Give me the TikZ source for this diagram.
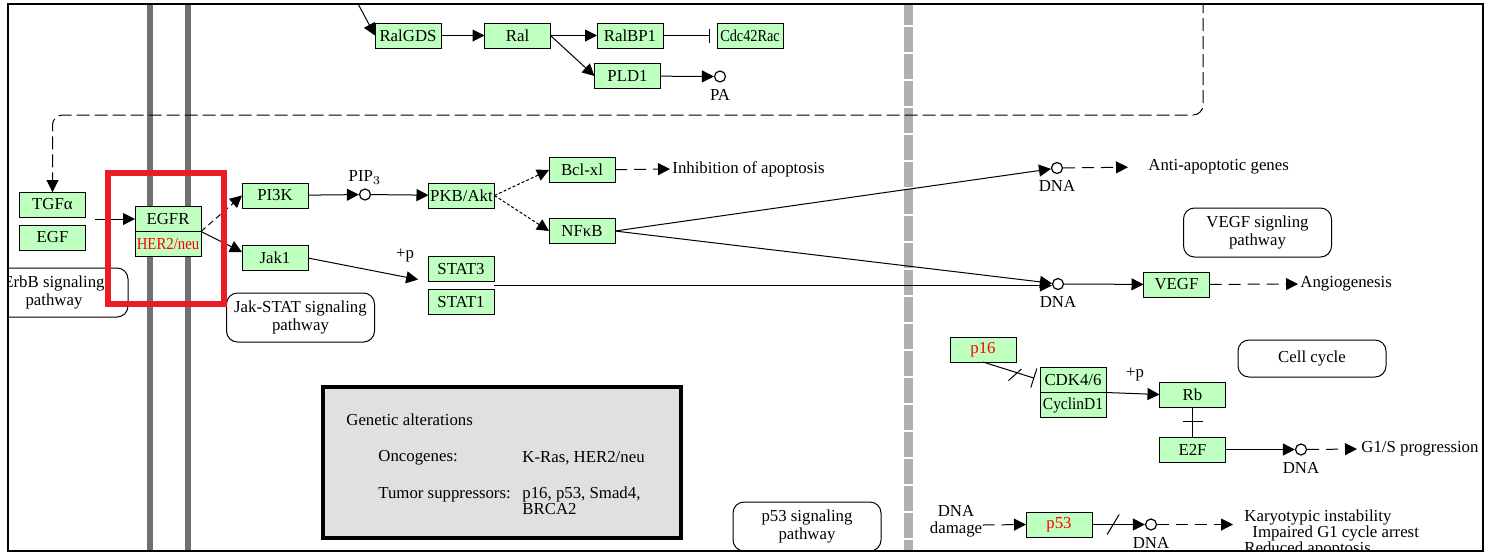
\documentclass[tikz,border=0pt]{standalone}
\usepackage{fontspec}
\setmainfont{Liberation Serif}
\usepackage{graphicx}
\usepackage{tikz}
\usetikzlibrary{arrows.meta,calc,positioning,decorations.markings}
\definecolor{kegggreen}{HTML}{BFFFBF}
\definecolor{keggred}{HTML}{FF0000}
\definecolor{framered}{HTML}{ED1C24}
\definecolor{membranegray}{HTML}{707070}
\definecolor{dividergray}{HTML}{B0B0B0}
\definecolor{notegray}{HTML}{E0E0E0}
\newcommand{\keggfont}{\fontsize{8.4}{8.6}\selectfont}
\tikzset{
gene box/.style={
  draw=black,
  fill=kegggreen,
  line width=0.5pt,
  minimum width=33pt,
  minimum height=12.5pt,
  inner sep=0pt,
  outer sep=0pt,
  font=\keggfont
},
mutant box/.style={gene box, text=keggred},
compound/.style={circle, draw=black, fill=white, line width=0.6pt, minimum size=5.5pt, inner sep=0pt},
pathway box/.style={
  draw=black,
  fill=white,
  rounded corners=5.5pt,
  line width=0.5pt,
  minimum width=74pt,
  minimum height=24.5pt,
  inner sep=0pt,
  align=center,
  font=\keggfont
},
fig label/.style={font=\keggfont, inner sep=0pt, align=left},
kegg flow/.style={-{Triangle[length=6pt,width=6pt]}, line width=0.5pt},
kegg dashed/.style={kegg flow, dash pattern=on 6pt off 3.5pt},
kegg loop/.style={kegg flow, dash pattern=on 6.5pt off 2.5pt},
kegg indirect/.style={kegg flow, dash pattern=on 3pt off 2pt},
kegg dotted/.style={kegg flow, dash pattern=on 1.5pt off 1pt},
kegg inhibit/.style={-{Bar[width=#1]}, line width=0.5pt},
kegg inhibit/.default=7pt,
cross bar/.style={postaction={decorate}, decoration={markings,
  mark=at position #1 with {\draw[-, solid, line width=0.5pt] (0pt,-5pt) -- (0pt,5pt);}}},
slash mark/.style={postaction={decorate}, decoration={markings,
  mark=at position #1 with {\draw[-, solid, line width=0.5pt] (-3pt,-5pt) -- (3pt,5pt);}}}
}
\begin{document}
\begin{tikzpicture}[x=0.5pt,y=-0.5pt]
\useasboundingbox (0,0) rectangle (1494,554);
\begin{scope}
\clip (8,4) rectangle (1483,551);
% membranes and compartment divider
\fill[membranegray] (147,0) rectangle (153,560);
\fill[membranegray] (185,0) rectangle (191,560);
\draw[dividergray, line width=4.5pt, dash pattern=on 12.5pt off 1pt] (908,0) -- (908,560);

% pathway maps
\node[pathway box] (erbb) at (54,292.5) {ErbB signaling\\pathway};
\node[pathway box] (jakstat) at (300.5,317.5) {Jak-STAT signaling\\pathway};
\node[pathway box] (vegf map) at (1257.5,232.5) {VEGF signling\\pathway};
\node[pathway box, minimum height=18.5pt] (cell cycle) at (1312,358.5) {Cell cycle};
\node[pathway box] (p53 map) at (807,526.5) {p53 signaling\\pathway};

% Ral branch
\node[gene box] (ralgds) at (408,35.5) {RalGDS};
\node[gene box] (ral) at (517.5,35.5) {Ral};
\node[gene box] (ralbp1) at (630,35.5) {RalBP1};
\node[gene box] (cdc42) at (750,35.5) {\scalebox{0.85}[1]{Cdc42Rac}};
\node[gene box] (pld1) at (627.5,76) {PLD1};
\node[compound] (pa) at (720,76.5) {};
\node[fig label, below=3pt of pa] (pa label) {PA};
\coordinate (ral in) at (356,0);
\draw[kegg flow] (ral in) -- (ralgds.west);
\draw[kegg flow] (ralgds) -- (ral);
\draw[kegg flow] (ral) -- (ralbp1);
\draw[kegg inhibit, shorten >=3.5pt] (ralbp1) -- (cdc42);
\draw[kegg flow] (ral.east) -- (pld1.west);
\draw[kegg flow] (pld1) -- (pa);

% receptor
\node[gene box] (tgfa) at (52.5,204.5) {TGFα};
\node[gene box, below=4pt of tgfa] (egf) {EGF};
\node[gene box] (egfr) at (168,219) {EGFR};
\node[mutant box, below=0pt of egfr] (her2) {\scalebox{0.88}[1]{HER2/neu}};
\coordinate (loop top) at (1203,0);
\coordinate (loop corner) at (1203,115);
\draw[kegg loop, rounded corners=5pt] (loop top) -- (loop corner) -| (tgfa.north);
\coordinate (ligand out) at (95,219);
\draw[kegg flow] (ligand out) -- (egfr.west);

% PI3K / Jak-STAT
\node[gene box] (pi3k) at (275,195.5) {PI3K};
\node[gene box] (jak1) at (275,258) {Jak1};
\node[compound] (pip3) at (365,194.5) {};
\node[fig label, above=2pt of pip3] (pip3 label) {PIP$_3$};
\node[gene box] (pkb) at (461.5,195.5) {PKB/Akt};
\node[gene box] (bclxl) at (582,170) {Bcl-xl};
\node[gene box] (nfkb) at (582,231) {NFκB};
\node[gene box] (stat3) at (461,269) {STAT3};
\node[gene box, below=4pt of stat3] (stat1) {STAT1};
\node[fig label] (p label1) at (405,256) {+p};
\draw[kegg indirect] (egfr.south east) -- (pi3k.west);
\draw[kegg flow] (egfr.south east) -- ([yshift=3pt]jak1.west);
\draw[kegg flow] (pi3k) -- (pip3);
\draw[kegg flow] (pip3) -- (pkb);
\draw[kegg dotted] (pkb.east) -- (bclxl.west);
\draw[kegg dotted] (pkb.east) -- (nfkb.west);
\draw[kegg flow, shorten >=5pt] (jak1.east) -- (stat3.south west);

% nucleus targets
\node[fig label, anchor=west] (apoptosis inhib) at (672,169) {Inhibition of apoptosis};
\node[compound] (dna1) at (1057,168) {};
\node[fig label, below=3pt of dna1] (dna1 label) {DNA};
\node[fig label, anchor=west] (anti genes) at (1148,167) {Anti-apoptotic genes};
\node[compound] (dna2) at (1058,284) {};
\node[fig label, below=3pt of dna2] (dna2 label) {DNA};
\node[gene box] (vegf) at (1176.5,284.5) {VEGF};
\node[fig label, anchor=west] (angio) at (1300,284) {Angiogenesis};
\coordinate (stat mid) at ($(stat3.south east)!0.5!(stat1.north east)$);
\draw[kegg dashed, shorten >=1pt] (bclxl) -- (apoptosis inhib.west);
\draw[kegg flow] (nfkb.east) -- (dna1);
\draw[kegg flow] (nfkb.east) -- (dna2);
\draw[kegg flow] (stat mid) -- (stat mid -| dna2.west);
\draw[kegg dashed, shorten >=10pt] (dna1) -- (anti genes.west);
\draw[kegg flow] (dna2) -- (vegf);
\draw[kegg dashed, shorten >=1pt] (vegf) -- (angio.west);

% cell cycle
\node[mutant box] (p16) at (983,349.5) {p16};
\node[gene box] (cdk) at (1073,380) {CDK4/6};
\node[gene box, below=0pt of cdk] (cyclind1) {\scalebox{0.92}[1]{CyclinD1}};
\node[gene box] (rb) at (1192.5,394.5) {Rb};
\node[gene box, below=15pt of rb] (e2f) {E2F};
\node[fig label] (p label2) at (1135,375) {+p};
\node[compound] (dna3) at (1301,449.5) {};
\node[fig label, below=3pt of dna3] (dna3 label) {DNA};
\node[fig label, anchor=west] (g1s) at (1361,449) {G1/S progression};
\draw[kegg inhibit=10pt, shorten >=3pt, slash mark=0.6] (p16.south) -- (cdk.west);
\draw[kegg flow] (cdk.south east) -- (rb.west);
\draw[line width=0.5pt, cross bar=0.47] (rb) -- (e2f);
\draw[kegg flow] (e2f) -- (dna3);
\draw[kegg dashed, shorten >=2pt] (dna3) -- (g1s.west);

% p53
\node[fig label, align=center] (dna damage) at (956,521) {DNA\\damage};
\node[mutant box] (p53) at (1059,524.5) {p53};
\node[compound] (dna4) at (1151,524.5) {};
\node[fig label, below=3pt of dna4] (dna4 label) {DNA};
\coordinate (outcome in) at (1233,524.5);
\node[fig label, anchor=west] (karyo) at (1244,517) {Karyotypic instability};
\node[fig label, anchor=west] (g1 arrest) at (1252,533) {Impaired G1 cycle arrest};
\node[fig label, anchor=west] (reduced apo) at (1244,549) {Reduced apoptosis};
\draw[kegg dashed] ([yshift=-2pt]dna damage.east) -- (p53.west);
\draw[kegg flow, slash mark=0.4] (p53) -- (dna4);
\draw[kegg dashed] (dna4) -- (outcome in);

% genetic alterations note
\node[draw=black, line width=2pt, fill=notegray, minimum width=179pt, minimum height=75.5pt] (note) at (502,462.5) {};
\node[fig label, anchor=west] (note title) at (346,420) {Genetic alterations};
\node[fig label, anchor=west] (onco) at (378,458) {Oncogenes:};
\node[fig label, anchor=west] (onco list) at (522,458) {K-Ras, HER2/neu};
\node[fig label, anchor=west] (tsg) at (378,495) {Tumor suppressors:};
\node[fig label, anchor=west] (tsg list) at (522,494) {p16, p53, Smad4,};
\node[fig label, anchor=west] (tsg list2) at (522,509) {BRCA2};

% highlight
\draw[framered, line width=3pt] (108,172.5) rectangle (224,304);
\end{scope}
\draw[line width=1pt] (8,4) rectangle (1483,551);
\end{tikzpicture}
\end{document}
